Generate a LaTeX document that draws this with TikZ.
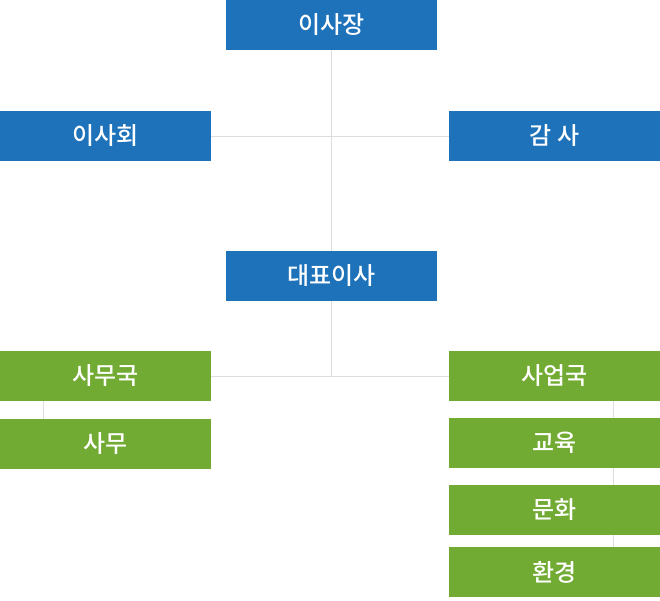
\documentclass[tikz,border=0pt]{standalone}
\usepackage{fontspec}
\newfontfamily\krfont[UprightFont=* Medium]{Noto Sans CJK KR}
\definecolor{orgblue}{HTML}{1D72BA}
\definecolor{orggreen}{HTML}{72AB33}
\definecolor{orgline}{HTML}{DDDDDD}
\tikzset{
  orgbox/.style={minimum width=211pt, minimum height=50pt, inner sep=0pt,
    text=white, font=\krfont\fontsize{24}{24}\selectfont},
  board/.style={orgbox, fill=orgblue},
  dept/.style={orgbox, fill=orggreen},
  link/.style={draw=orgline, line width=1pt}
}
\begin{document}
\begin{tikzpicture}[x=1pt,y=-1pt]
      \useasboundingbox (0,0) rectangle (660,600);
      \draw
        (331.5,25) node[board] (isajang){이사장}
        (105.5,136) node[board] (isahoe){이사회}
        (554.5,136) node[board] (gamsa){감 사}
        (331.5,276) node[board] (daepyo){대표이사}
        (105.5,376) node[dept] (samuguk){사무국}
        (105.5,444) node[dept] (samu){사무}
        (554.5,376) node[dept] (saeopguk){사업국}
        (554.5,443) node[dept] (gyoyuk){교육}
        (554.5,510) node[dept] (munhwa){문화}
        (554.5,572) node[dept] (hwangyeong){환경};
      \begin{scope}[link]
        \draw (isajang) to (daepyo);
        \draw (isahoe) to (gamsa);
        \draw (daepyo.south) |- (samuguk.east);
        \draw (daepyo.south) |- (saeopguk.west);
        \draw ([xshift=-62pt]samuguk.south) to ([xshift=-62pt]samu.north);
        \draw ([xshift=58.5pt]saeopguk.south) to ([xshift=58.5pt]gyoyuk.north);
        \draw ([xshift=58.5pt]gyoyuk.south) to ([xshift=58.5pt]munhwa.north);
        \draw ([xshift=58.5pt]munhwa.south) to ([xshift=58.5pt]hwangyeong.north);
      \end{scope}
    \end{tikzpicture}
\end{document}
